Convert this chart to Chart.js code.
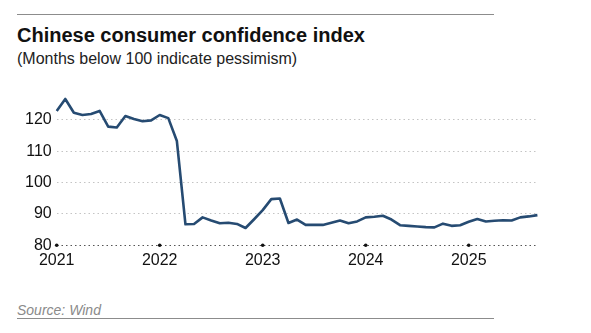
<!DOCTYPE html>
<html>
<head>
<meta charset="utf-8">
<script src="https://cdn.jsdelivr.net/npm/chart.js@4/dist/chart.umd.min.js"></script>
<style>
  body { margin: 0; background: #fff; width: 591px; height: 333px; position: relative; overflow: hidden; font-family: "Liberation Sans", Arial, sans-serif; }
  .rule { position: absolute; left: 17px; width: 477px; height: 1px; background: #8c8c8c; }
  #title { position: absolute; left: 17px; top: 24px; font-size: 20px; font-weight: bold; color: #111; white-space: nowrap; }
  #subtitle { position: absolute; left: 17px; top: 50px; font-size: 16px; color: #222; white-space: nowrap; }
  #source { position: absolute; left: 17px; top: 302px; font-size: 14px; font-style: italic; color: #8a8a8a; }
  #wrap { position: absolute; left: 0; top: 80px; width: 591px; height: 196px; }
</style>
</head>
<body>
<div class="rule" style="top:14px"></div>
<div id="title">Chinese consumer confidence index</div>
<div id="subtitle">(Months below 100 indicate pessimism)</div>
<div id="wrap"><canvas id="cci"></canvas></div>
<div id="source">Source: Wind</div>
<div class="rule" style="top:318px"></div>
<script>
const anios = ["2021", "2022", "2023", "2024", "2025"];
// indice mensual, ene 2021 - sep 2025
const valores_2021 = [122.8, 126.6, 122.2, 121.5, 121.8, 122.8, 117.8, 117.5, 121.2, 120.2, 119.5, 119.8];
const valores_2022 = [121.5, 120.5, 113.2, 86.7, 86.8, 88.9, 87.9, 87.0, 87.2, 86.8, 85.5, 88.3];
const valores_2023 = [91.2, 94.7, 94.9, 87.1, 88.2, 86.5, 86.5, 86.5, 87.2, 87.9, 87.0, 87.6];
const valores_2024 = [88.9, 89.1, 89.4, 88.2, 86.4, 86.2, 86.0, 85.8, 85.7, 86.9, 86.2, 86.4];
const valores_2025 = [87.5, 88.4, 87.6, 87.8, 88.0, 87.9, 88.9, 89.2, 89.6];
const ticks_y = [80, 90, 100, 110, 120];

const valores = [].concat(valores_2021, valores_2022, valores_2023, valores_2024, valores_2025);
const meses = valores.map((v, i) => anios[Math.floor(i / 12)] + "-" + String((i % 12) + 1).padStart(2, "0"));

// puntitos negros sobre el eje en cada enero
const plugin_puntos_anio = {
  id: "puntosAnio",
  afterDatasetsDraw: (chart) => {
    const ctx = chart.ctx;
    const x = chart.scales.x;
    const y = chart.scales.y.getPixelForValue(80);
    ctx.save();
    ctx.fillStyle = "#111";
    meses.forEach((m, i) => {
      if (i % 12 === 0) {
        ctx.beginPath();
        ctx.arc(x.getPixelForValue(i), y, 1.8, 0, Math.PI * 2);
        ctx.fill();
      }
    });
    ctx.restore();
  },
};

const ctx = document.getElementById("cci").getContext("2d");
new Chart(ctx, {
  type: "line",
  data: {
    labels: meses,
    datasets: [
      {
        data: valores,
        borderColor: "#264b72",
        borderWidth: 2.6,
        pointRadius: 0,
        tension: 0,
        borderJoinStyle: "round",
      },
    ],
  },
  options: {
    responsive: true,
    maintainAspectRatio: false,
    animation: false,
    layout: { padding: { top: 5.3, right: 53.6, left: 0, bottom: 0 } },
    plugins: { legend: { display: false }, tooltip: { enabled: false } },
    scales: {
      x: {
        offset: false,
        grid: { display: false, drawTicks: false },
        border: { display: false },
        ticks: {
          autoSkip: false,
          maxRotation: 0,
          padding: 6,
          color: "#111",
          font: { family: "Liberation Sans", size: 16 },
          callback: (v, i) => (i % 12 === 0 ? anios[i / 12] : null),
        },
        afterFit: (scale) => { scale.height = 30.7; },
      },
      y: {
        min: 80,
        max: 128,
        afterBuildTicks: (axis) => {
          axis.ticks = ticks_y.map((v) => ({ value: v }));
        },
        grid: {
          drawTicks: false,
          color: (c) => (c.tick && c.tick.value === 80 ? "#555" : "#c4c4c4"),
          lineWidth: 1,
        },
        border: { display: false, dash: [1.5, 3] },
        ticks: {
          padding: 5,
          color: "#111",
          font: { family: "Liberation Sans", size: 16 },
        },
        afterFit: (scale) => { scale.width = 56.7; },
      },
    },
  },
  plugins: [plugin_puntos_anio],
});
</script>
</body>
</html>
